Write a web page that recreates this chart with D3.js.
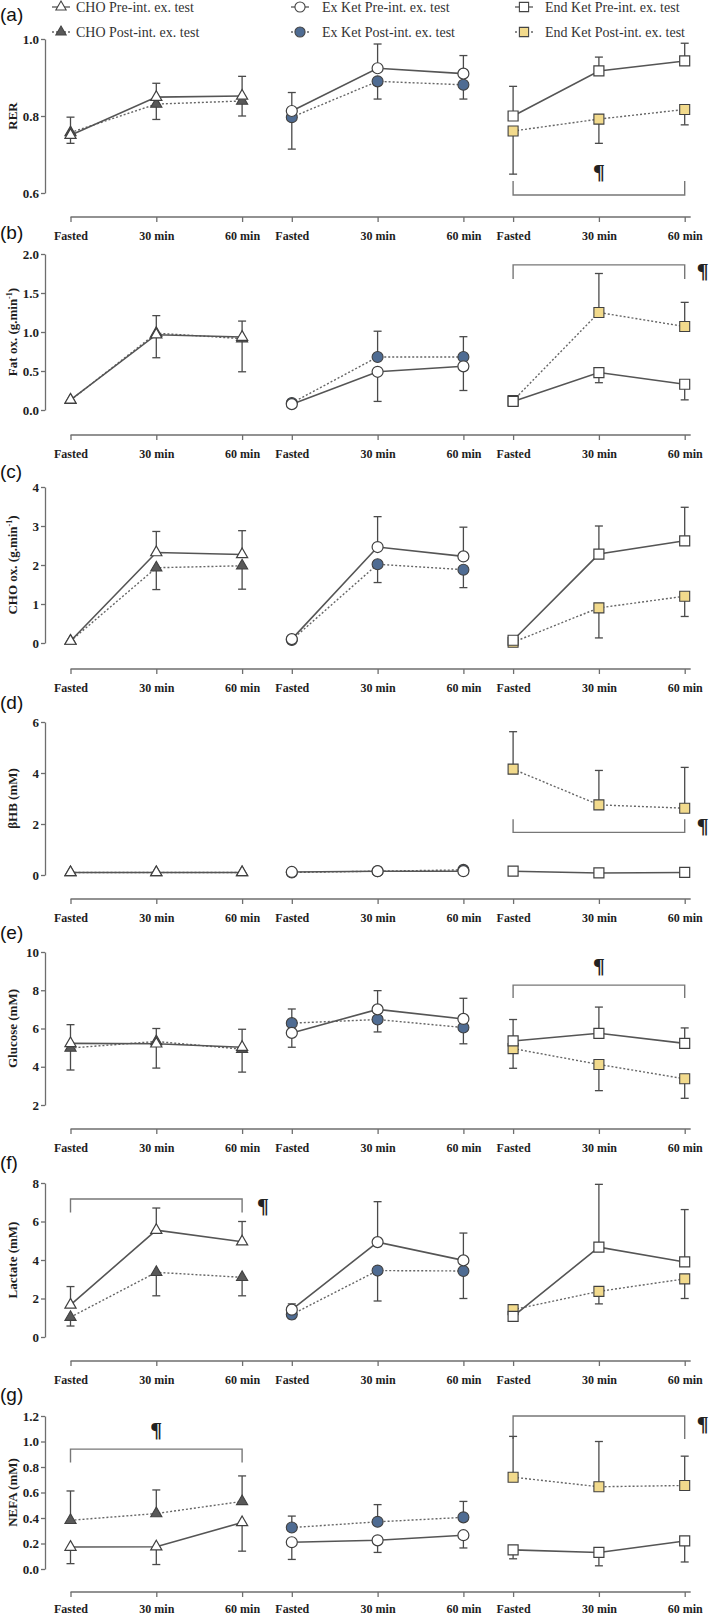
<!DOCTYPE html>
<html><head><meta charset="utf-8">
<script src="https://cdn.jsdelivr.net/npm/d3@7"></script>
<style>body{margin:0;background:#fff}svg{display:block}</style>
</head><body>
<script>
// ---------------- DATA ----------------
const groups = ["CHO", "Ex Ket", "End Ket"];
const times = ["Fasted", "30 min", "60 min"];
const legendPre = ["CHO Pre-int. ex. test", "Ex Ket Pre-int. ex. test", "End Ket Pre-int. ex. test"];
const legendPost = ["CHO Post-int. ex. test", "Ex Ket Post-int. ex. test", "End Ket Post-int. ex. test"];
const panelLetters = ["(a)", "(b)", "(c)", "(d)", "(e)", "(f)", "(g)"];

// (a) RER
const rerPre = [[0.750, 0.849, 0.852], [0.813, 0.924, 0.910], [0.800, 0.917, 0.943]];
const rerPost = [[0.757, 0.831, 0.839], [0.797, 0.890, 0.881], [0.761, 0.792, 0.817]];
const rerPreErr = [[0.021, 0.036, 0.051], [0.048, 0.063, 0.047], [0.077, 0.036, 0.046]];
const rerPostErr = [[0.040, 0.040, 0.039], [0.083, 0.046, 0.037], [0.112, 0.063, 0.040]];
const rerTicks = [0.6, 0.8, 1.0];

// (b) Fat oxidation
const fatPre = [[0.13, 0.965, 0.935], [0.075, 0.49, 0.56], [0.11, 0.48, 0.33]];
const fatPost = [[0.125, 0.985, 0.915], [0.09, 0.68, 0.68], [0.12, 1.25, 1.07]];
const fatPreErr = [[0, 0.295, 0.205], [0.02, 0.38, 0.31], [0, 0.13, 0.20]];
const fatPostErr = [[0, 0.225, 0.425], [0.02, 0.33, 0.26], [0, 0.50, 0.31]];
const fatTicks = [0, 0.5, 1.0, 1.5, 2.0];

// (c) CHO oxidation
const choPre = [[0.05, 2.32, 2.27], [0.10, 2.46, 2.22], [0.07, 2.28, 2.62]];
const choPost = [[0.05, 1.93, 1.98], [0.08, 2.02, 1.88], [0.02, 0.90, 1.20]];
const choPreErr = [[0, 0.54, 0.61], [0, 0.78, 0.75], [0, 0.72, 0.86]];
const choPostErr = [[0, 0.56, 0.60], [0, 0.47, 0.46], [0, 0.77, 0.52]];
const choTicks = [0, 1, 2, 3, 4];

// (d) betaHB
const bhbPre = [[0.10, 0.10, 0.10], [0.12, 0.15, 0.15], [0.15, 0.08, 0.10]];
const bhbPost = [[0.10, 0.10, 0.10], [0.10, 0.15, 0.20], [4.15, 2.75, 2.62]];
const bhbPreErr = [[0, 0, 0], [0, 0, 0], [0, 0, 0]];
const bhbPostErr = [[0, 0, 0], [0, 0, 0], [1.47, 1.35, 1.60]];
const bhbTicks = [0, 2, 4, 6];

// (e) Glucose
const gluPre = [[5.22, 5.20, 5.02], [5.77, 7.00, 6.50], [5.35, 5.75, 5.22]];
const gluPost = [[4.98, 5.32, 4.92], [6.28, 6.47, 6.05], [4.95, 4.12, 3.37]];
const gluPreErr = [[0.98, 1.27, 0.94], [0.75, 0.98, 1.08], [1.12, 1.37, 0.81]];
const gluPostErr = [[1.15, 0.68, 1.20], [0.74, 0.65, 0.85], [1.03, 1.37, 1.02]];
const gluTicks = [2, 4, 6, 8, 10];

// (f) Lactate
const lacPre = [[1.67, 5.55, 4.95], [1.42, 4.93, 3.98], [1.07, 4.67, 3.90]];
const lacPost = [[1.03, 3.36, 3.10], [1.17, 3.45, 3.43], [1.42, 2.37, 3.02]];
const lacPreErr = [[0.95, 1.15, 1.05], [0.30, 2.10, 1.42], [0, 3.26, 2.72]];
const lacPostErr = [[0.46, 1.22, 0.96], [0.22, 1.58, 1.43], [0, 0.65, 1.02]];
const lacTicks = [0, 2, 4, 6, 8];

// (g) NEFA
const nefaPre = [[0.172, 0.175, 0.365], [0.21, 0.225, 0.265], [0.15, 0.13, 0.22]];
const nefaPost = [[0.382, 0.435, 0.53], [0.325, 0.37, 0.405], [0.72, 0.645, 0.655]];
const nefaPreErr = [[0.13, 0.14, 0.225], [0.135, 0.095, 0.10], [0.07, 0.105, 0.165]];
const nefaPostErr = [[0.23, 0.185, 0.20], [0.09, 0.135, 0.125], [0.32, 0.355, 0.23]];
const nefaTicks = [0, 0.2, 0.4, 0.6, 0.8, 1.0, 1.2];

// significance brackets (data units): group, bar level, leg end level
const bracketsA = [{g: 2, y: 0.595, leg: 0.631}];
const bracketsB = [{g: 2, y: 1.86, leg: 1.68}];
const bracketsD = [{g: 2, y: 1.67, leg: 2.19}];
const bracketsE = [{g: 2, y: 8.27, leg: 7.59}];
const bracketsF = [{g: 0, y: 7.17, leg: 6.47}];
const bracketsG = [{g: 0, y: 0.94, leg: 0.836}, {g: 2, y: 1.20, leg: 1.02}];
// pilcrow marks: group, time index, level, side
const marksA = [{g: 2, t: 1, y: 0.636, side: "mid"}];
const marksB = [{g: 2, t: 2, y: 1.69, side: "right"}];
const marksD = [{g: 2, t: 2, y: 1.65, side: "right"}];
const marksE = [{g: 2, t: 1, y: 8.9, side: "mid"}];
const marksF = [{g: 0, t: 2, y: 6.44, side: "right2"}];
const marksG = [{g: 0, t: 1, y: 1.035, side: "mid"}, {g: 2, t: 2, y: 1.08, side: "right"}];

// ---------------- LAYOUT ----------------
const W = 709, H = 1619;
const yAxisX = 45;
const plotTop = [39, 254, 487, 722, 952, 1183, 1416];
const plotBottom = [193, 410, 643, 875, 1105, 1337, 1569];
const xAxisY = [217, 435, 669, 899, 1129, 1361, 1592];
const xPad = [9, 9, 9, 9, 9, 9, 7];
const letterY = [15, 233, 472, 703, 933, 1163, 1395];

const SERIF = "'Liberation Serif','Times New Roman',serif";
const SANS = "'Liberation Sans',Arial,sans-serif";
const postFill = ["#595959", "#4f6c93", "#f2da8c"];
const symbols = [d3.symbolTriangle, d3.symbolCircle, d3.symbolSquare];
const symSize = [54, 95, 100];

const fmt1 = d3.format(".1f"), fmt0 = d3.format("d");
const panels = [
  {title: [["RER"]], domain: [0.6, 1.0], ticks: rerTicks, fmt: fmt1, pre: rerPre, post: rerPost, preErr: rerPreErr, postErr: rerPostErr, br: bracketsA, mk: marksA},
  {title: [["Fat ox. (g.min"], ["-1", "sup"], [")"]], domain: [0, 2], ticks: fatTicks, fmt: fmt1, pre: fatPre, post: fatPost, preErr: fatPreErr, postErr: fatPostErr, br: bracketsB, mk: marksB},
  {title: [["CHO ox. (g.min"], ["-1", "sup"], [")"]], domain: [0, 4], ticks: choTicks, fmt: fmt0, pre: choPre, post: choPost, preErr: choPreErr, postErr: choPostErr, br: [], mk: []},
  {title: [["βHB (mM)"]], domain: [0, 6], ticks: bhbTicks, fmt: fmt0, pre: bhbPre, post: bhbPost, preErr: bhbPreErr, postErr: bhbPostErr, br: bracketsD, mk: marksD},
  {title: [["Glucose (mM)"]], domain: [2, 10], ticks: gluTicks, fmt: fmt0, pre: gluPre, post: gluPost, preErr: gluPreErr, postErr: gluPostErr, br: bracketsE, mk: marksE},
  {title: [["Lactate (mM)"]], domain: [0, 8], ticks: lacTicks, fmt: fmt0, pre: lacPre, post: lacPost, preErr: lacPreErr, postErr: lacPostErr, br: bracketsF, mk: marksF},
  {title: [["NEFA (mM)"]], domain: [0, 1.2], ticks: nefaTicks, fmt: fmt1, pre: nefaPre, post: nefaPost, preErr: nefaPreErr, postErr: nefaPostErr, br: bracketsG, mk: marksG}
];

// x scales: group position + time offset
const gx = d3.scalePoint().domain(groups).range([70.5, 513.1]);
const tx = d3.scalePoint().domain(times).range([0, 171.6]);
const xKeys = [];
groups.forEach(g => times.forEach(t => xKeys.push(g + "|" + t)));
const xOrd = d3.scaleOrdinal().domain(xKeys).range(xKeys.map(k => { const [g, t] = k.split("|"); return gx(g) + tx(t); }));
const xPos = (gi, ti) => gx(groups[gi]) + tx(times[ti]);

const svg = d3.select("body").append("svg").attr("width", W).attr("height", H)
  .attr("viewBox", `0 0 ${W} ${H}`);

const AX = "#6e6e6e";
function styleAxis(sel, size) {
  sel.select(".domain").attr("stroke", AX).attr("stroke-width", 1.3);
  sel.selectAll(".tick line").attr("stroke", AX).attr("stroke-width", 1.3);
  sel.selectAll(".tick text").attr("fill", "#1e1e1e").style("font-family", SERIF)
    .style("font-weight", "bold").style("font-size", size + "px");
}

// ---------------- LEGEND ----------------
const legX = [61, 300, 524];
const legTextX = [76, 322, 545];
const legRowY = [7, 32];
[0, 1].forEach(row => {
  groups.forEach((g, gi) => {
    const lg = svg.append("g");
    lg.append("line").attr("x1", legX[gi] - 9).attr("x2", legX[gi] + 9)
      .attr("y1", legRowY[row]).attr("y2", legRowY[row])
      .attr("stroke", row === 0 ? "#555" : "#666").attr("stroke-width", 1.3)
      .attr("stroke-dasharray", row === 0 ? null : "2,2");
    lg.append("path").attr("d", d3.symbol(symbols[gi], symSize[gi] * 0.85)())
      .attr("transform", `translate(${legX[gi]},${legRowY[row]})`)
      .attr("fill", row === 0 ? "#fff" : postFill[gi]).attr("stroke", "#444").attr("stroke-width", 1.1);
    lg.append("text").attr("x", legTextX[gi]).attr("y", legRowY[row] + 5)
      .text(row === 0 ? legendPre[gi] : legendPost[gi])
      .attr("fill", "#333").style("font-family", SERIF).style("font-size", "14px");
  });
});

// ---------------- PANELS ----------------
panels.forEach((p, i) => {
  const y = d3.scaleLinear().domain(p.domain).range([plotBottom[i], plotTop[i]]);
  const pg = svg.append("g");

  // panel letter
  pg.append("text").attr("x", 0).attr("y", letterY[i] + 6).text(panelLetters[i])
    .attr("fill", "#111").style("font-family", SANS).style("font-size", "19px");

  // y axis
  pg.append("g").attr("transform", `translate(${yAxisX},0)`)
    .call(d3.axisLeft(y).tickValues(p.ticks).tickFormat(p.fmt).tickSize(4).tickSizeOuter(0).tickPadding(2))
    .call(styleAxis, 13);

  // y title
  const mid = (plotTop[i] + plotBottom[i]) / 2;
  const tt = pg.append("text").attr("transform", `translate(17,${mid}) rotate(-90)`)
    .attr("text-anchor", "middle").attr("fill", "#1e1e1e")
    .style("font-family", SERIF).style("font-weight", "bold").style("font-size", "13px");
  p.title.forEach(part => {
    if (part[1] === "sup") tt.append("tspan").attr("dy", -5).style("font-size", "8px").text(part[0]);
    else if (part[0] === ")") tt.append("tspan").attr("dy", 5).text(part[0]);
    else tt.append("tspan").text(part[0]);
  });

  // x axis
  const xa = pg.append("g").attr("transform", `translate(0,${xAxisY[i]})`)
    .call(d3.axisBottom(xOrd).tickSize(5).tickSizeOuter(0).tickPadding(xPad[i]).tickFormat(k => k.split("|")[1]))
    .call(styleAxis, 12);
  xa.select(".domain").remove();
  xa.insert("line", ":first-child").attr("x1", xOrd(xKeys[0])).attr("x2", xOrd(xKeys[xKeys.length - 1]) + 6)
    .attr("y1", 0).attr("y2", 0).attr("stroke", AX).attr("stroke-width", 1.3);

  // brackets
  p.br.forEach(b => {
    const x0 = xPos(b.g, 0), x1 = xPos(b.g, 2);
    pg.append("path").attr("d", `M${x0},${y(b.leg)}V${y(b.y)}H${x1}V${y(b.leg)}`)
      .attr("fill", "none").attr("stroke", "#777").attr("stroke-width", 1.4);
  });
  p.mk.forEach(m => {
    let x = xPos(m.g, m.t), anchor = "middle";
    if (m.side === "right") { x += 12; anchor = "start"; }
    if (m.side === "right2") { x += 15; anchor = "start"; }
    pg.append("text").attr("x", x).attr("y", y(m.y)).attr("text-anchor", anchor).text("¶")
      .attr("fill", "#222").style("font-family", SERIF).style("font-weight", "bold").style("font-size", "22px");
  });

  // series per group
  groups.forEach((g, gi) => {
    const pre = p.pre[gi], post = p.post[gi];
    const line = d3.line().x((d, ti) => xPos(gi, ti)).y(d => y(d));
    // error bars (higher series upward, lower downward)
    [[pre, p.preErr[gi], post], [post, p.postErr[gi], pre]].forEach(([vals, errs, other]) => {
      vals.forEach((v, ti) => {
        const e = errs[ti];
        if (!e) return;
        const end = v >= other[ti] ? v + e : v - e;
        const x = xPos(gi, ti);
        pg.append("line").attr("x1", x).attr("x2", x).attr("y1", y(v)).attr("y2", y(end))
          .attr("stroke", "#4a4a4a").attr("stroke-width", 1.3);
        pg.append("line").attr("x1", x - 4).attr("x2", x + 4).attr("y1", y(end)).attr("y2", y(end))
          .attr("stroke", "#4a4a4a").attr("stroke-width", 1.3);
      });
    });
    pg.append("path").attr("d", line(post)).attr("fill", "none").attr("stroke", "#666")
      .attr("stroke-width", 1.4).attr("stroke-dasharray", "2,2");
    pg.append("path").attr("d", line(pre)).attr("fill", "none").attr("stroke", "#555")
      .attr("stroke-width", 1.6);
    // markers: post first, pre on top
    post.forEach((v, ti) => {
      pg.append("path").attr("d", d3.symbol(symbols[gi], symSize[gi])())
        .attr("transform", `translate(${xPos(gi, ti)},${y(v)})`)
        .attr("fill", postFill[gi]).attr("stroke", "#404040").attr("stroke-width", 1.1);
    });
    pre.forEach((v, ti) => {
      pg.append("path").attr("d", d3.symbol(symbols[gi], symSize[gi])())
        .attr("transform", `translate(${xPos(gi, ti)},${y(v)})`)
        .attr("fill", "#fff").attr("stroke", "#404040").attr("stroke-width", 1.2);
    });
  });
});
</script>
</body></html>
